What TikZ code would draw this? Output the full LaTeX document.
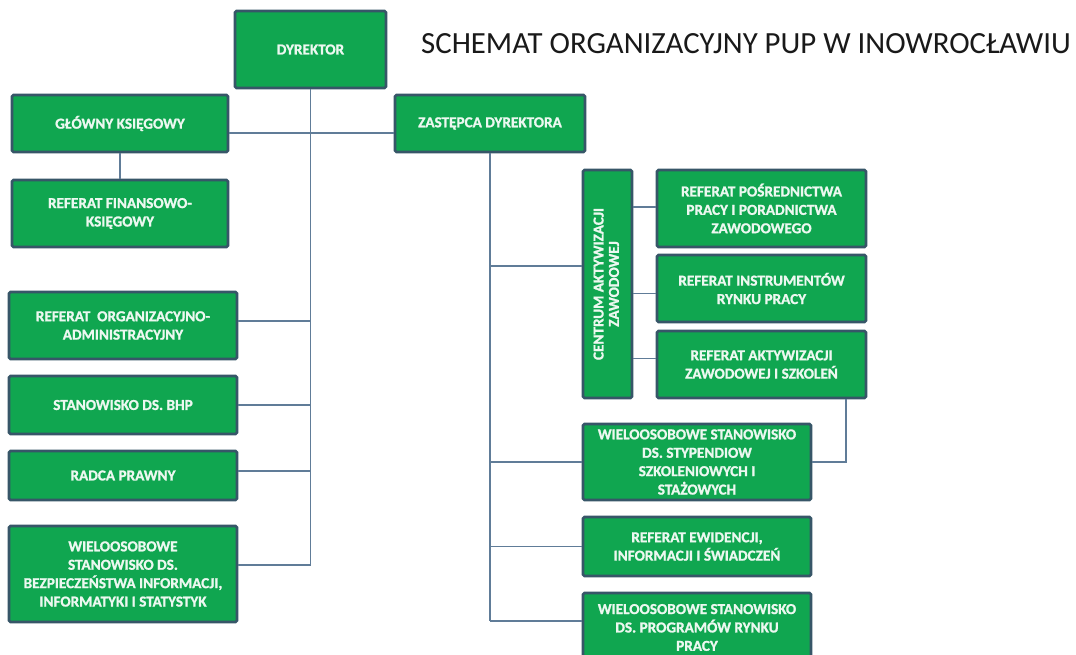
\documentclass[tikz,border=0pt]{standalone}
\usepackage{fontspec}
\setmainfont{Carlito}
\newfontfamily\boxfont[FakeBold=1.2]{Carlito Bold}
\usepackage{graphicx}
\usetikzlibrary{calc}
\definecolor{boxgreen}{RGB}{16,166,80}
\definecolor{boxborder}{RGB}{55,86,104}
\definecolor{boxtext}{RGB}{236,248,240}
\definecolor{linkcol}{RGB}{96,124,152}
\tikzset{
  orgbox/.style={draw=boxborder, line width=2.6pt, fill=boxgreen, rounded corners=1.5pt,
    text=boxtext, align=center, inner sep=2pt,
    font=\boxfont\fontsize{15.2}{18.4}\selectfont},
  link/.style={draw=linkcol, line width=1.2pt}
}
\begin{document}
\begin{tikzpicture}[x=1pt,y=-1pt]
\clip (0,0) rectangle (1076,655);
\fill[white] (0,0) rectangle (1076,655);

% title
\node[anchor=base west, inner sep=0pt, text=black!90, font=\fontsize{30.8}{36}\selectfont] (title) at (421,54)
  {SCHEMAT ORGANIZACYJNY PUP W INOWROCŁAWIU};

% left / top boxes
\node[orgbox, minimum width=151pt, minimum height=77pt] (dyr) at (310.5,49.5) {DYREKTOR};
\node[orgbox, minimum width=216pt, minimum height=57pt] (gk) at (120,123.5) {GŁÓWNY KSIĘGOWY};
\node[orgbox, minimum width=190pt, minimum height=57pt] (zd) at (490,123.5) {ZASTĘPCA DYREKTORA};
\node[orgbox, minimum width=216pt, minimum height=67pt] (rf) at (120,213.5) {REFERAT FINANSOWO-\\KSIĘGOWY};
\node[orgbox, minimum width=228pt, minimum height=67pt] (ro) at (123,325.5) {REFERAT~~ORGANIZACYJNO-\\ADMINISTRACYJNY};
\node[orgbox, minimum width=228pt, minimum height=58pt] (bhp) at (123,405) {STANOWISKO DS. BHP};
\node[orgbox, minimum width=228pt, minimum height=49pt] (rp) at (123,475.5) {RADCA PRAWNY};
\node[orgbox, minimum width=228pt, minimum height=96pt] (wb) at (123,574)
  {WIELOOSOBOWE\\STANOWISKO DS.\\BEZPIECZEŃSTWA INFORMACJI,\\INFORMATYKI I STATYSTYK};

% right side boxes
\node[orgbox, minimum width=49pt, minimum height=228pt, inner sep=0pt] (cz) at (607.5,284)
  {\rotatebox{90}{\begin{tabular}{@{}c@{}}CENTRUM AKTYWIZACJI\\[-3pt]ZAWODOWEJ\end{tabular}}};
\node[orgbox, minimum width=209pt, minimum height=77pt] (rpo) at (761.5,208.5)
  {REFERAT POŚREDNICTWA\\PRACY I PORADNICTWA\\ZAWODOWEGO};
\node[orgbox, minimum width=209pt, minimum height=67pt] (ri) at (761.5,288.5)
  {REFERAT INSTRUMENTÓW\\RYNKU PRACY};
\node[orgbox, minimum width=209pt, minimum height=67pt] (ra) at (761.5,364.5)
  {REFERAT AKTYWIZACJI\\ZAWODOWEJ I SZKOLEŃ};
\node[orgbox, minimum width=228pt, minimum height=76pt] (ws) at (697,462)
  {WIELOOSOBOWE STANOWISKO\\DS. STYPENDIOW\\SZKOLENIOWYCH I\\STAŻOWYCH};
\node[orgbox, minimum width=228pt, minimum height=59pt] (re) at (697,546.5)
  {REFERAT EWIDENCJI,\\INFORMACJI I ŚWIADCZEŃ};
\node[orgbox, minimum width=228pt, minimum height=69pt] (wp) at (697,627.5)
  {WIELOOSOBOWE STANOWISKO\\DS. PROGRAMÓW RYNKU\\PRACY};

% connectors: director branch
\coordinate (dyrend) at ([yshift=9pt]wb.east -| dyr.south);
\draw[link] (dyr.south) -- (dyrend);
\draw[link] ([yshift=-9.5pt]gk.east) -- ([yshift=-9.5pt]zd.west);
\draw[link] (gk.south) -- (rf.north);
\draw[link] ([yshift=4.5pt]ro.east) -- ([yshift=4.5pt]ro.east -| dyr.south);
\draw[link] (bhp.east) -- (bhp.east -| dyr.south);
\draw[link] ([yshift=4.5pt]rp.east) -- ([yshift=4.5pt]rp.east -| dyr.south);
\draw[link] ([yshift=9pt]wb.east) -- (dyrend);

% deputy branch
\coordinate (zdend) at ([yshift=6.5pt]wp.west -| zd.south);
\draw[link] (zd.south) -- (zdend);
\draw[link] ([yshift=18pt]cz.west) -- ([yshift=18pt]cz.west -| zd.south);
\draw[link] ([yshift=1.5pt]cz.east |- rpo.west) -- ([yshift=1.5pt]rpo.west);
\draw[link] ([yshift=-5pt]ri.west -| cz.east) -- ([yshift=-5pt]ri.west);
\draw[link] ([yshift=6pt]ra.west -| cz.east) -- ([yshift=6pt]ra.west);
\coordinate (rabend) at ([xshift=84.5pt]ra.south);
\draw[link] (rabend) |- (ws.east);
\draw[link] (ws.west) -- (ws.west -| zd.south);
\draw[link] (re.west) -- (re.west -| zd.south);
\draw[link] ([yshift=6.5pt]wp.west) -- (zdend);
\end{tikzpicture}
\end{document}
